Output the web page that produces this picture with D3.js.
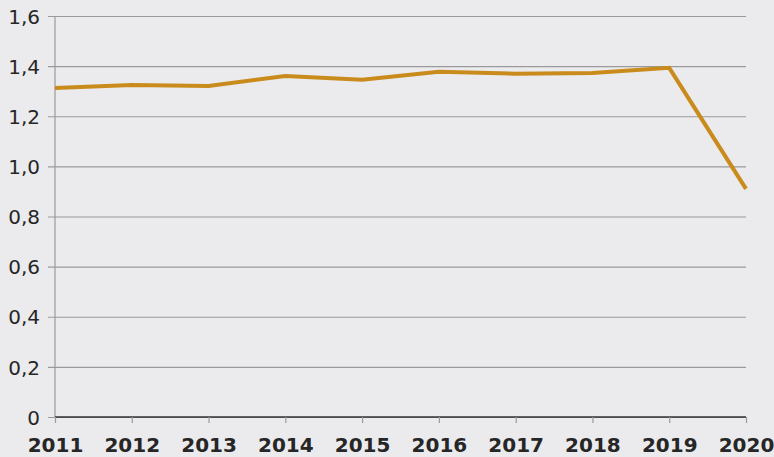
<!DOCTYPE html>
<html lang="no">
<head>
<meta charset="UTF-8">
<title>Line chart</title>
<style>
  body { margin: 0; background: #ebebed; }
  svg { display: block; }
</style>
</head>
<body>
<script src="https://d3js.org/d3.v7.min.js"></script>
<script>
const years = [2011, 2012, 2013, 2014, 2015, 2016, 2017, 2018, 2019, 2020];
const values = [1.313, 1.325, 1.321, 1.361, 1.346, 1.378, 1.370, 1.373, 1.393, 0.910];
const yTicks = [0, 0.2, 0.4, 0.6, 0.8, 1.0, 1.2, 1.4, 1.6];

const w = 774, h = 457;
const font = "'DejaVu Sans', sans-serif";
const svg = d3.select("body").append("svg").attr("width", w).attr("height", h);

svg.append("rect").attr("width", w).attr("height", h).attr("fill", "#ebebed");

const x = d3.scaleLinear().domain([2011, 2020]).range([55, 746]);
const y = d3.scaleLinear().domain([0, 1.6]).range([417, 16]);

const fmt = d => d === 0 ? "0" : d3.format(".1f")(d).replace(".", ",");

// y grid + labels
const yAxis = d3.axisLeft(y)
  .tickValues(yTicks)
  .tickSize(-(746 - 48))
  .tickFormat(fmt);

const gy = svg.append("g")
  .attr("transform", "translate(48,0)")
  .call(yAxis)
  .attr("font-family", font)
  .attr("font-size", 20);
gy.select(".domain").remove();
gy.selectAll(".tick line").attr("stroke", "#9a9a9c").attr("stroke-width", 1.2);
gy.selectAll(".tick text")
  .attr("fill", "#262626")
  .attr("x", -8)
  .attr("dy", "0.36em");

// vertical left axis line
svg.append("line")
  .attr("x1", 55).attr("x2", 55)
  .attr("y1", y(1.6)).attr("y2", y(0))
  .attr("stroke", "#9a9a9c").attr("stroke-width", 1.2);

// x axis
const xAxis = d3.axisBottom(x)
  .tickValues(years)
  .tickSize(6)
  .tickFormat(d3.format("d"));

const gx = svg.append("g")
  .attr("transform", "translate(0," + y(0) + ")")
  .call(xAxis)
  .attr("font-family", font)
  .attr("font-size", 20);
gx.select(".domain").attr("stroke", "#333").attr("stroke-width", 1.6)
  .attr("d", "M55,0H746");
gx.selectAll(".tick line").attr("stroke", "#9a9a9c").attr("stroke-width", 1.2);
gx.selectAll(".tick text")
  .attr("fill", "#262626")
  .attr("font-weight", "bold")
  .attr("y", 35)
  .attr("dy", 0);

// line
const line = d3.line()
  .x((d, i) => x(years[i]))
  .y(d => y(d));

svg.append("path")
  .datum(values)
  .attr("fill", "none")
  .attr("stroke", "#c98b1c")
  .attr("stroke-width", 4)
  .attr("stroke-linejoin", "miter")
  .attr("d", line);
</script>
</body>
</html>
